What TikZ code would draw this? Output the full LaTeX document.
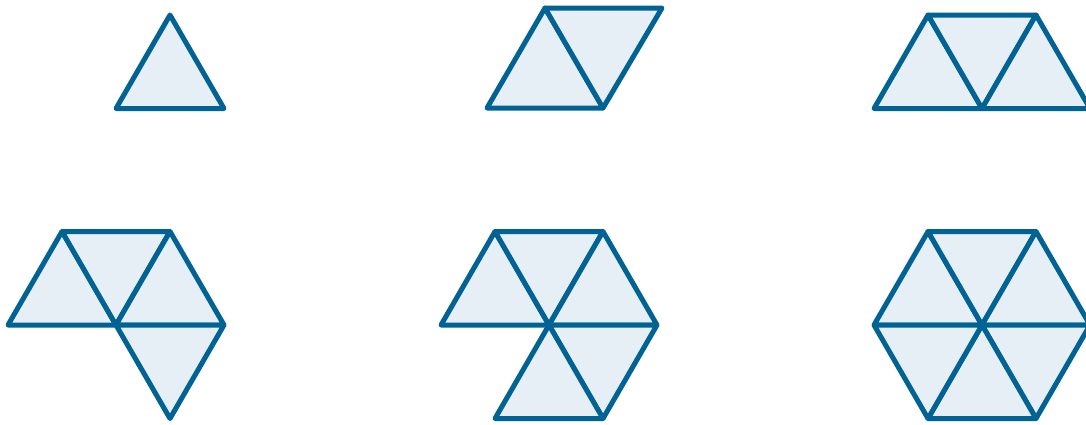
\documentclass[tikz,border=0pt]{standalone}
\definecolor{edgeblue}{RGB}{0,99,148}
\definecolor{facefill}{RGB}{229,239,245}
\tikzset{tri/.style={draw=edgeblue,fill=facefill,line width=5pt,line join=round,line cap=round}}
\begin{document}
\begin{tikzpicture}[x=1pt,y=-1pt]
\useasboundingbox (0,0) rectangle (1086,424);
% shape 1
\draw[tri] (116,108.5) -- (170,15) -- (224,108.5) -- cycle;
% shape 2 (rhombus)
\draw[tri] (487,108) -- (545,8) -- (603,108) -- cycle;
\draw[tri] (545,8) -- (662,8) -- (603,108) -- cycle;
% shape 3 (trapezoid)
\draw[tri] (874,108.5) -- (928,15) -- (982,108.5) -- cycle;
\draw[tri] (928,15) -- (1036,15) -- (982,108.5) -- cycle;
\draw[tri] (982,108.5) -- (1036,15) -- (1090,108.5) -- cycle;
% shape 4
\draw[tri] (8,325) -- (62,231.5) -- (116,325) -- cycle;
\draw[tri] (62,231.5) -- (170,231.5) -- (116,325) -- cycle;
\draw[tri] (116,325) -- (170,231.5) -- (224,325) -- cycle;
\draw[tri] (116,325) -- (224,325) -- (170,418.5) -- cycle;
% shape 5
\draw[tri] (441,325) -- (495,231.5) -- (549,325) -- cycle;
\draw[tri] (495,231.5) -- (603,231.5) -- (549,325) -- cycle;
\draw[tri] (549,325) -- (603,231.5) -- (657,325) -- cycle;
\draw[tri] (549,325) -- (657,325) -- (603,418.5) -- cycle;
\draw[tri] (549,325) -- (603,418.5) -- (495,418.5) -- cycle;
% shape 6 (hexagon)
\draw[tri] (874,325) -- (928,231.5) -- (982,325) -- cycle;
\draw[tri] (928,231.5) -- (1036,231.5) -- (982,325) -- cycle;
\draw[tri] (982,325) -- (1036,231.5) -- (1090,325) -- cycle;
\draw[tri] (982,325) -- (1090,325) -- (1036,418.5) -- cycle;
\draw[tri] (982,325) -- (1036,418.5) -- (928,418.5) -- cycle;
\draw[tri] (874,325) -- (982,325) -- (928,418.5) -- cycle;
\end{tikzpicture}
\end{document}
